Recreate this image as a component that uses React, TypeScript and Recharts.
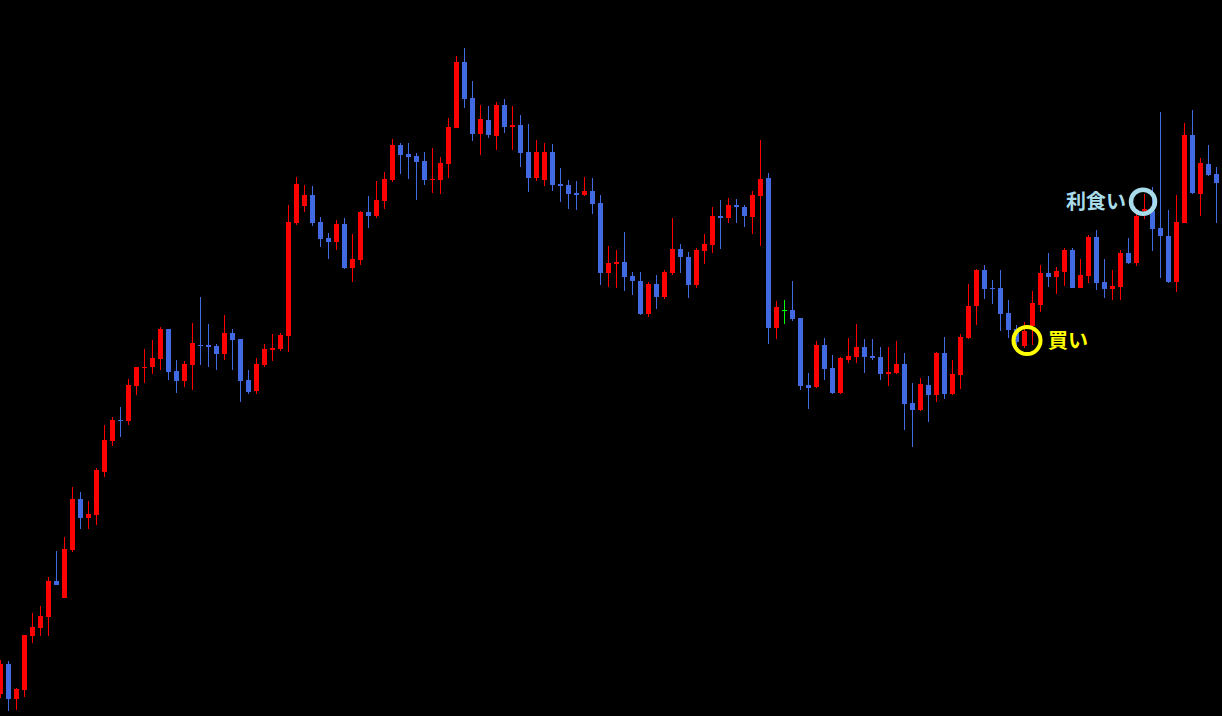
import { ComposedChart, Bar, XAxis, YAxis, ReferenceDot } from "recharts";

// price points (x0.01), one per bar, oldest first
const OPEN = [
  14022, 14052, 14017, 14026, 14080, 14088, 14099, 14135, 14118, 14166,
  14217, 14198, 14201, 14244, 14275, 14296, 14295, 14330, 14348, 14349,
  14357, 14387, 14345, 14335, 14351, 14371, 14371, 14370, 14362, 14383,
  14377, 14336, 14325, 14351, 14366, 14367, 14380, 14493, 14510, 14521,
  14494, 14478, 14474, 14492, 14448, 14456, 14504, 14500, 14515, 14536,
  14571, 14562, 14560, 14555, 14536, 14536, 14552, 14588, 14654, 14618,
  14582, 14596, 14580, 14611, 14589, 14591, 14564, 14538, 14536, 14564,
  14532, 14531, 14523, 14521, 14525, 14513, 14443, 14452, 14454, 14440,
  14435, 14402, 14432, 14419, 14443, 14467, 14459, 14431, 14465, 14471,
  14500, 14498, 14511, 14509, 14499, 14520, 14538, 14388, 14406, 14406,
  14398, 14331, 14329, 14371, 14348, 14323, 14356, 14359, 14369, 14360,
  14359, 14342, 14343, 14352, 14313, 14306, 14331, 14321, 14363, 14322,
  14341, 14378, 14410, 14446, 14428, 14428, 14403, 14387, 14370, 14390,
  14411, 14443, 14439, 14444, 14466, 14428, 14440, 14479, 14434, 14427,
  14429, 14463, 14453, 14505, 14505, 14488, 14480, 14434, 14493, 14581,
  14522, 14552, 14542, 14533,
];

const HIGH = [
  14056, 14055, 14028, 14081, 14103, 14110, 14139, 14165, 14179, 14229,
  14224, 14215, 14248, 14291, 14299, 14309, 14337, 14349, 14367, 14376,
  14389, 14387, 14356, 14355, 14393, 14419, 14392, 14372, 14401, 14387,
  14377, 14346, 14358, 14372, 14382, 14383, 14511, 14539, 14531, 14530,
  14499, 14483, 14496, 14498, 14482, 14505, 14520, 14535, 14544, 14577,
  14573, 14573, 14563, 14564, 14568, 14559, 14598, 14660, 14668, 14635,
  14611, 14610, 14614, 14617, 14610, 14601, 14592, 14576, 14573, 14572,
  14548, 14536, 14535, 14539, 14538, 14521, 14470, 14466, 14484, 14444,
  14444, 14434, 14441, 14446, 14498, 14472, 14464, 14468, 14482, 14509,
  14516, 14518, 14517, 14511, 14525, 14576, 14543, 14415, 14416, 14435,
  14398, 14343, 14375, 14378, 14361, 14359, 14378, 14392, 14377, 14377,
  14369, 14369, 14375, 14363, 14333, 14338, 14340, 14364, 14379, 14356,
  14382, 14432, 14447, 14451, 14436, 14446, 14416, 14391, 14394, 14425,
  14451, 14463, 14449, 14468, 14468, 14457, 14481, 14486, 14457, 14446,
  14466, 14478, 14502, 14522, 14529, 14604, 14506, 14521, 14593, 14606,
  14558, 14571, 14549, 14556,
];

const LOW = [
  14018, 14005, 14006, 14019, 14073, 14080, 14080, 14131, 14118, 14164,
  14187, 14187, 14191, 14239, 14270, 14279, 14291, 14321, 14333, 14342,
  14346, 14336, 14323, 14329, 14326, 14351, 14349, 14346, 14356, 14346,
  14314, 14322, 14322, 14349, 14355, 14365, 14364, 14491, 14504, 14490,
  14469, 14457, 14466, 14447, 14434, 14451, 14488, 14498, 14507, 14534,
  14542, 14537, 14516, 14531, 14523, 14522, 14538, 14588, 14608, 14575,
  14561, 14578, 14566, 14583, 14566, 14549, 14524, 14535, 14530, 14525,
  14514, 14507, 14506, 14520, 14502, 14431, 14429, 14428, 14425, 14421,
  14401, 14399, 14407, 14417, 14441, 14443, 14418, 14428, 14452, 14463,
  14467, 14493, 14493, 14489, 14482, 14470, 14372, 14377, 14392, 14395,
  14326, 14307, 14328, 14336, 14322, 14322, 14353, 14353, 14343, 14356,
  14336, 14330, 14342, 14286, 14269, 14305, 14294, 14314, 14317, 14321,
  14327, 14377, 14391, 14417, 14412, 14385, 14378, 14370, 14368, 14371,
  14404, 14429, 14422, 14430, 14428, 14428, 14433, 14426, 14418, 14416,
  14416, 14452, 14450, 14497, 14465, 14438, 14433, 14424, 14493, 14522,
  14500, 14540, 14493, 14526,
];

const CLOSE = [
  14052, 14017, 14027, 14081, 14089, 14100, 14135, 14131, 14167, 14217,
  14198, 14202, 14246, 14276, 14296, 14295, 14331, 14349, 14349, 14358,
  14387, 14344, 14335, 14352, 14373, 14370, 14369, 14362, 14383, 14376,
  14335, 14324, 14352, 14367, 14368, 14381, 14494, 14532, 14521, 14493,
  14477, 14474, 14492, 14448, 14457, 14504, 14500, 14516, 14537, 14571,
  14561, 14559, 14554, 14536, 14537, 14553, 14589, 14654, 14617, 14582,
  14597, 14581, 14611, 14589, 14591, 14563, 14538, 14564, 14564, 14531,
  14530, 14522, 14521, 14525, 14512, 14443, 14453, 14454, 14439, 14435,
  14402, 14432, 14419, 14444, 14467, 14459, 14431, 14466, 14472, 14500,
  14498, 14511, 14509, 14500, 14521, 14537, 14388, 14409, 14406, 14397,
  14330, 14328, 14371, 14347, 14323, 14358, 14360, 14369, 14359, 14358,
  14342, 14344, 14352, 14312, 14306, 14332, 14321, 14363, 14322, 14342,
  14379, 14410, 14446, 14427, 14427, 14402, 14386, 14374, 14385, 14413,
  14443, 14439, 14445, 14466, 14428, 14441, 14479, 14433, 14427, 14430,
  14463, 14453, 14500, 14507, 14487, 14480, 14434, 14494, 14581, 14523,
  14553, 14541, 14533, 14549,
];

// trade marks: bar index, price level, caption
const BUY = { i: 128, price: 143.755, text: "買い" };
const TAKE = { i: 143, price: 145.143, text: "利食い" };

const UP = "#ff0000";
const DOWN = "#4169e1";
const FLAT = "#00ff00";

const rows = OPEN.map((o, i) => ({
  i,
  open: o / 100,
  close: CLOSE[i] / 100,
  high: HIGH[i] / 100,
  low: LOW[i] / 100,
  range: [LOW[i] / 100, HIGH[i] / 100],
}));

function Candle(props: any) {
  let { x, y, width, height, payload } = props;
  if (height < 0) {
    y += height;
    height = -height;
  }
  const { open, close, high, low } = payload;
  const span = high - low;
  const k = span > 0 ? height / span : 0;
  const color = close > open ? UP : close < open ? DOWN : FLAT;
  const top = y + (high - Math.max(open, close)) * k;
  const bh = Math.max(1, Math.abs(open - close) * k);
  const cx = x + width / 2;
  return (
    <g shapeRendering="crispEdges">
      <rect x={cx - 0.5} y={y} width={1} height={Math.max(1, height)} fill={color} />
      <rect x={x} y={top} width={width} height={bh} fill={color} />
    </g>
  );
}

const font = '"Noto Sans CJK JP", "Noto Sans", sans-serif';

export default function App() {
  return (
    <div
      style={{
        position: "fixed",
        left: 0,
        top: 0,
        width: 1222,
        height: 716,
        background: "#000",
        overflow: "hidden",
      }}
    >
      <div style={{ position: "absolute", left: -4.5, top: 0 }}>
        <ComposedChart
          width={1232}
          height={716}
          data={rows}
          margin={{ top: 0, right: 0, bottom: 0, left: 0 }}
        >
          <XAxis dataKey="i" hide />
          <YAxis hide domain={[140, 147.16]} allowDataOverflow />
          <Bar dataKey="range" barSize={5} shape={Candle} isAnimationActive={false} />
          <ReferenceDot
            x={BUY.i}
            y={BUY.price}
            ifOverflow="visible"
            shape={(p: any) => (
              <g>
                <circle cx={p.cx + 3} cy={p.cy} r={13.5} fill="none" stroke="#ffff00" strokeWidth={4} />
                <text
                  x={p.cx + 24}
                  y={p.cy + 7}
                  fill="#ffff00"
                  fontSize={20}
                  fontWeight={700}
                  fontFamily={font}
                >
                  {BUY.text}
                </text>
              </g>
            )}
          />
          <ReferenceDot
            x={TAKE.i}
            y={TAKE.price}
            ifOverflow="visible"
            shape={(p: any) => (
              <g>
                <circle cx={p.cx - 1} cy={p.cy} r={12} fill="none" stroke="#a8dcea" strokeWidth={4.5} />
                <text
                  x={p.cx - 18}
                  y={p.cy + 7}
                  textAnchor="end"
                  fill="#a8dcea"
                  fontSize={20}
                  fontWeight={700}
                  fontFamily={font}
                >
                  {TAKE.text}
                </text>
              </g>
            )}
          />
        </ComposedChart>
      </div>
    </div>
  );
}
